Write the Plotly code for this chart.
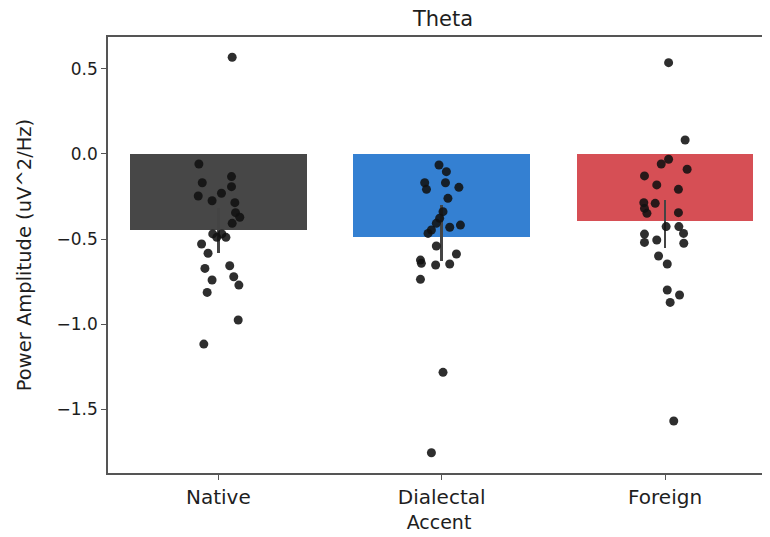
import plotly.graph_objects as go

categories = ["Native", "Dialectal", "Foreign"]
bar_means = [-0.447, -0.486, -0.392]
ci_low = [-0.58, -0.63, -0.55]
ci_high = [-0.32, -0.30, -0.27]
bar_colors = ["#474747", "#3480d2", "#d64f55"]

native_vals = [0.569, -0.059, -0.169, -0.133, -0.192, -0.247, -0.275, -0.231, -0.286, -0.345,
               -0.372, -0.408, -0.47, -0.49, -0.47, -0.49, -0.529, -0.584, -0.673, -0.657,
               -0.741, -0.722, -0.771, -0.814, -0.976, -1.118]
native_jit = [0.062, -0.087, -0.072, 0.059, 0.059, -0.090, -0.028, 0.014, 0.074, 0.077,
              0.096, 0.062, -0.025, -0.007, 0.016, 0.034, -0.075, -0.046, -0.060, 0.051,
              -0.028, 0.069, 0.092, -0.050, 0.089, -0.065]

dialectal_vals = [-0.065, -0.104, -0.169, -0.208, -0.169, -0.196, -0.261, -0.339, -0.378, -0.408,
                  -0.447, -0.467, -0.431, -0.418, -0.541, -0.588, -0.624, -0.643, -0.653, -0.647,
                  -0.737, -1.284, -1.757]
dialectal_jit = [-0.012, 0.021, -0.076, -0.068, 0.017, 0.077, 0.028, 0.006, -0.009, -0.024,
                 -0.046, -0.061, 0.036, 0.084, -0.024, 0.066, -0.095, -0.091, -0.027, 0.036,
                 -0.095, 0.006, -0.046]

foreign_vals = [0.537, 0.082, -0.031, -0.059, -0.090, -0.129, -0.182, -0.208, -0.286, -0.290,
                -0.320, -0.349, -0.345, -0.427, -0.427, -0.467, -0.471, -0.520, -0.506, -0.525,
                -0.600, -0.647, -0.800, -0.829, -0.873, -1.57]
foreign_jit = [0.016, 0.090, 0.016, -0.017, 0.099, -0.092, -0.037, 0.060, -0.095, -0.044,
               -0.092, -0.081, 0.060, 0.005, 0.062, 0.083, -0.092, -0.092, -0.037, 0.084,
               -0.029, 0.010, 0.010, 0.065, 0.023, 0.039]

groups = [(native_vals, native_jit), (dialectal_vals, dialectal_jit), (foreign_vals, foreign_jit)]

font = "DejaVu Sans"
txt = "#1e1e1e"
spine = "#555555"

# page body has an 8px margin; figure is sized so the plot lands where the reference has it
W, H = 762, 529

fig = go.Figure()
fig.add_trace(go.Bar(
    x=list(range(len(categories))), y=bar_means, width=0.79,
    marker=dict(color=bar_colors, line=dict(width=0)),
    error_y=dict(type="data", symmetric=False,
                 array=[h - m for h, m in zip(ci_high, bar_means)],
                 arrayminus=[m - l for l, m in zip(ci_low, bar_means)],
                 color="#444444", thickness=2.8, width=0),
    showlegend=False, hoverinfo="skip"))

for i, (vals, jit) in enumerate(groups):
    fig.add_trace(go.Scatter(
        x=[i + j for j in jit], y=vals, mode="markers",
        marker=dict(color="#111111", size=9, opacity=0.88, line=dict(width=0)),
        showlegend=False))

fig.update_layout(
    width=W, height=H,
    margin=dict(l=100, r=0, t=29, b=64),
    plot_bgcolor="white", paper_bgcolor="white",
    font=dict(family=font, size=17, color=txt),
    title=dict(text="Theta", x=0.506, xref="paper", xanchor="center",
               y=1 - 3 / H, yanchor="top", pad=dict(t=0, b=0),
               font=dict(size=21, color=txt)),
    bargap=0,
)
fig.update_xaxes(
    range=[-0.494, 2.47], tickvals=[0, 1, 2], ticktext=categories,
    showline=True, linecolor=spine, linewidth=1.5, mirror=True,
    ticks="outside", ticklen=5, tickcolor=spine, tickwidth=1.2,
    showgrid=False, zeroline=False,
    title=dict(text="Accent", standoff=8, font=dict(size=19)),
    tickfont=dict(size=20),
)
fig.update_yaxes(
    range=[-1.876, 0.688], tickvals=[0.5, 0.0, -0.5, -1.0, -1.5],
    ticktext=["0.5", "0.0", "\u22120.5", "\u22121.0", "\u22121.5"],
    showline=True, linecolor=spine, linewidth=1.5, mirror=False,
    ticks="outside", ticklen=5, tickcolor=spine, tickwidth=1.2,
    showgrid=False, zeroline=False,
    title=dict(text="Power Amplitude (uV^2/Hz)", standoff=20, font=dict(size=19.5)),
    tickfont=dict(size=17),
)

fig.write_html("out.html")
